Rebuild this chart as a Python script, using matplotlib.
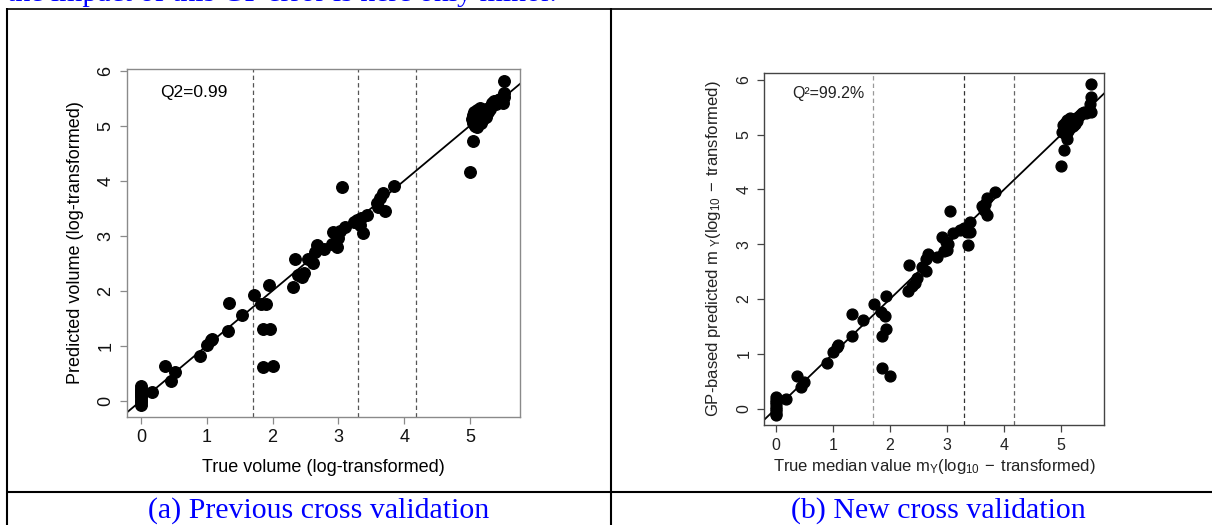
import numpy as np
import matplotlib.pyplot as plt
from matplotlib.lines import Line2D

plt.rcParams['font.family'] = ['Liberation Sans', 'DejaVu Sans']
plt.rcParams['mathtext.default'] = 'regular'

# ── Données ──
thresholds = [1.699, 3.301, 4.176]

left_true = [0, 0, 0, 0, 0, 0, 0, 0, 0, 0.17, 0.37, 0.45, 0.51, 0.90, 1.00, 1.06,
             1.08, 1.33, 1.34, 1.53, 1.72, 1.82, 1.90, 1.94, 1.86, 1.96, 1.86, 2.00,
             2.31, 2.34, 2.39, 2.44, 2.47, 2.54, 2.62, 2.64, 2.67, 2.78, 2.90, 2.92,
             2.98, 3.00, 3.02, 2.95, 3.05, 3.10, 3.23, 3.28, 3.33, 3.35, 3.38, 3.43,
             3.58, 3.60, 3.63, 3.68, 3.71, 3.85, 5.00, 5.05,
             5.03, 5.04, 5.05, 5.06, 5.08, 5.09, 5.10, 5.11, 5.12, 5.13, 5.15, 5.16,
             5.17, 5.19, 5.20, 5.22, 5.24, 5.25, 5.27, 5.30, 5.32, 5.34, 5.37, 5.40,
             5.43, 5.46, 5.50, 5.51, 5.52, 5.52]
left_pred = [0.26, 0.22, 0.18, 0.14, 0.10, 0.06, 0.02, -0.03, -0.07, 0.16, 0.63, 0.35,
             0.52, 0.82, 1.01, 1.10, 1.13, 1.27, 1.77, 1.56, 1.92, 1.75, 1.75, 2.10,
             1.30, 1.30, 0.62, 0.63, 2.07, 2.58, 2.28, 2.25, 2.32, 2.58, 2.50, 2.71,
             2.83, 2.75, 2.85, 3.07, 2.80, 2.95, 3.08, 3.05, 3.88, 3.16, 3.25, 3.28,
             3.19, 3.32, 3.05, 3.38, 3.59, 3.53, 3.68, 3.77, 3.44, 3.90, 4.15, 4.73,
             5.12, 5.20, 5.05, 5.25, 5.00, 5.15, 5.28, 4.98, 5.10, 5.22, 5.33, 5.05,
             5.18, 5.25, 5.12, 5.20, 5.30, 5.15, 5.24, 5.30, 5.35, 5.42, 5.45, 5.40,
             5.47, 5.48, 5.41, 5.60, 5.52, 5.81]

right_true = [0, 0, 0, 0, 0, 0, 0, 0, 0, 0.18, 0.37, 0.44, 0.50, 0.89, 1.00, 1.07,
              1.09, 1.34, 1.34, 1.53, 1.72, 1.84, 1.91, 1.94, 1.87, 1.94, 1.87, 2.00,
              2.31, 2.34, 2.38, 2.44, 2.47, 2.56, 2.63, 2.64, 2.67, 2.83, 2.92, 2.95,
              3.00, 2.98, 3.02, 3.05, 3.11, 3.23, 3.29, 3.35, 3.37, 3.41, 3.40, 3.61,
              3.64, 3.67, 3.70, 3.70, 3.84, 5.00, 5.05, 5.11,
              5.02, 5.03, 5.05, 5.06, 5.08, 5.09, 5.10, 5.12, 5.13, 5.15, 5.16, 5.18,
              5.20, 5.22, 5.24, 5.26, 5.28, 5.30, 5.33, 5.36, 5.40, 5.44, 5.48, 5.50,
              5.52, 5.52, 5.53]
right_pred = [0.21, 0.16, 0.12, 0.08, 0.04, 0.00, -0.04, -0.09, -0.12, 0.17, 0.60,
              0.40, 0.49, 0.84, 1.04, 1.13, 1.16, 1.33, 1.72, 1.61, 1.91, 1.77, 1.69,
              2.06, 1.33, 1.45, 0.74, 0.60, 2.15, 2.63, 2.24, 2.30, 2.38, 2.58, 2.52,
              2.73, 2.83, 2.77, 3.13, 2.88, 2.90, 3.05, 3.00, 3.61, 3.20, 3.26, 3.29,
              3.23, 2.98, 3.41, 3.23, 3.69, 3.63, 3.73, 3.84, 3.53, 3.96, 4.43, 4.72,
              4.92,
              5.05, 5.18, 5.10, 5.22, 5.00, 5.14, 5.27, 5.06, 5.20, 5.30, 5.12, 5.22,
              5.16, 5.26, 5.20, 5.30, 5.25, 5.33, 5.36, 5.40, 5.42, 5.40, 5.45, 5.55,
              5.42, 5.92, 5.68]

W, H = 1212, 525
fig = plt.figure(figsize=(W / 100, H / 100), dpi=100)


def px_axes(l, r, t, b):
    return fig.add_axes([l / W, (H - b) / H, (r - l) / W, (b - t) / H])


def style_r(ax, box_col, fs, lab_col):
    for sp in ax.spines.values():
        sp.set_color(box_col)
        sp.set_linewidth(1.0)
    ax.tick_params(direction="out", length=5, width=0.9, color=box_col,
                   labelsize=fs, labelcolor=lab_col, pad=4)
    ax.set_xticks(range(6))
    ax.set_yticks(range(7))
    for lab in ax.get_yticklabels():
        lab.set_rotation(90)
        lab.set_va("center")


# ════════ Gauche : ancienne validation croisée ════════
ax1 = px_axes(126.7, 520, 69, 416.7)
ax1.set_xlim(-0.217, 5.76)
ax1.set_ylim(-0.291, 6.03)
style_r(ax1, "#8a8a8a", 13, "#111111")
for v in thresholds:
    ax1.axvline(v, color="#555555", lw=0.9, ls=(0, (3.5, 2.5)))
ax1.axline((0, 0), (1, 1), color="black", lw=1.3)
ax1.plot(left_true, left_pred, "o", color="black", ms=8.3, mec="black")
ax1.text(0.085, 0.932, "Q2=0.99", transform=ax1.transAxes, fontsize=12.5,
         ha="left", va="center")
ax1.text(0.5, -0.145, "True volume (log-transformed)", transform=ax1.transAxes,
         fontsize=13, ha="center", va="center")
ax1.text(-0.131, 0.5, "Predicted volume (log-transformed)", transform=ax1.transAxes,
         fontsize=13, ha="center", va="center", rotation=90)

# ════════ Droite : nouvelle validation croisée ════════
ax2 = px_axes(764, 1104.3, 72.7, 425)
ax2.set_xlim(-0.205, 5.755)
ax2.set_ylim(-0.297, 6.13)
style_r(ax2, "#444444", 11.5, "#222222")
for v, c in zip(thresholds, ["#999999", "#333333", "#666666"]):
    ax2.axvline(v, color=c, lw=0.9, ls=(0, (3.5, 2.5)))
ax2.axline((0, 0), (1, 1), color="black", lw=1.3)
ax2.plot(right_true, right_pred, "o", color="black", ms=7.8, mec="black")
ax2.text(0.084, 0.9415, "Q²=99.2%", transform=ax2.transAxes, fontsize=11.5,
         ha="left", va="center", color="#222222")
ax2.text(0.5, -0.118, r"True median value m$_{Y}$(log$_{10}$$\,-\,$transformed)",
         transform=ax2.transAxes, fontsize=12, ha="center", va="center",
         color="#222222")
ax2.text(-0.147, 0.5, r"GP-based predicted m$_{\ Y}$(log$_{10}$$\,-\,$transformed)",
         transform=ax2.transAxes, fontsize=12, ha="center", va="center",
         rotation=90, color="#222222")

# ════════ Tableau du document ════════
def hline(y, x0, x1, lw):
    fig.add_artist(Line2D([x0 / W, x1 / W], [(H - y) / H] * 2, color="black",
                          lw=lw, solid_capstyle="butt"))


def vline(x, y0, y1, lw):
    fig.add_artist(Line2D([x / W] * 2, [(H - y0) / H, (H - y1) / H], color="black",
                          lw=lw, solid_capstyle="butt"))


hline(8.5, 6, W, 1.2)
hline(492, 6, W, 1.5)
vline(7, 8, H, 1.5)
vline(611, 8, H, 1.5)

serif = ["Liberation Serif", "DejaVu Serif"]
fig.text(7 / W, 1 - 1 / H, "the impact of this GP error is here only minor.",
         family=serif, fontsize=21.5, color="#0000ff", ha="left", va="baseline")
fig.text(319 / W, (H - 511) / H, "(a) Previous cross validation", family=serif,
         fontsize=21.5, color="#0000ff", ha="center", va="center")
fig.text(938 / W, (H - 511) / H, "(b) New cross validation", family=serif,
         fontsize=21.5, color="#0000ff", ha="center", va="center")

fig.savefig("out.png", dpi=100)
